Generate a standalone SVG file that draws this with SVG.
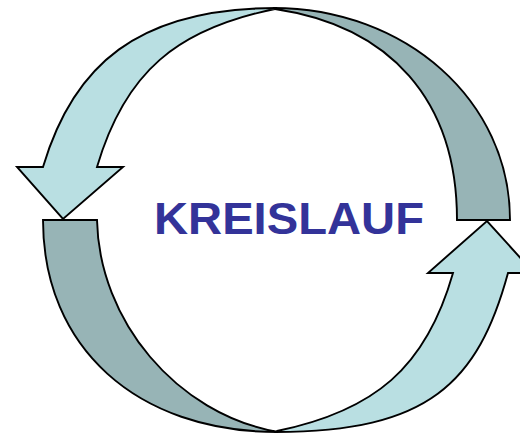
<svg xmlns="http://www.w3.org/2000/svg" width="520" height="433" viewBox="0 0 520 433">
<style>
.light{fill:#B9DFE2;stroke:#000;stroke-width:1.9;stroke-linejoin:miter}
.dark{fill:#97B4B6;stroke:#000;stroke-width:1.9;stroke-linejoin:miter}
.title{font-family:"Liberation Sans",Arial,sans-serif;font-weight:bold;font-size:44px;fill:#333399}
</style>
<rect width="520" height="433" fill="#fff"/>
<g id="connectors">
<g id="arrow-top-right-back">
<path class="dark" d="M273,8 C406,8 510,101 510,220 L457,220 C457,100 390,26 275,9 Z"/>
</g>
<g id="arrow-bottom-left-back">
<path class="dark" d="M43,220 C43,347 136,432 278,432 C176,414 99,320 97,220 Z"/>
</g>
<g id="arrow-top-left">
<path class="light" d="M277,8 C137,8 73,66 43,167 L17,167 L63,219 L123,167 L97,167 C125,72 177,29 275,9 Z"/>
</g>
<g id="arrow-bottom-right">
<path class="light" d="M276,432 C428,432 478,383 508,273 L534,273 L487,221 L428,273 L453,273 C426,368 374,411 277,431 Z"/>
</g>
</g>
<g id="label">
<text class="title" x="154" y="234" textLength="270" lengthAdjust="spacingAndGlyphs">KREISLAUF</text>
</g>
</svg>
